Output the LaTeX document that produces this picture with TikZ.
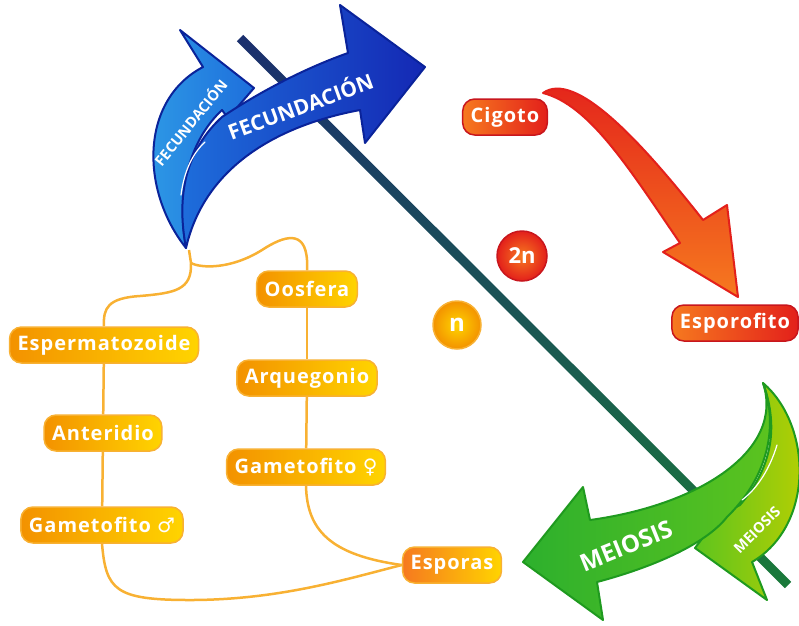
\documentclass[tikz,border=0pt]{standalone}
\usepackage{fontspec}
\setmainfont{Open Sans}
\newfontfamily\simbolos{DejaVu Sans}
\newcommand\etiq{\fontsize{20}{22}\selectfont\bfseries\addfontfeatures{LetterSpace=5}}

\definecolor{naranja}{HTML}{F39200}
\definecolor{amarillo}{HTML}{FFD400}
\definecolor{bordeamar}{HTML}{F8B133}
\definecolor{rojo}{HTML}{E3201B}
\definecolor{rojoosc}{HTML}{C8161D}
\definecolor{naranjarojo}{HTML}{F6791F}
\definecolor{azulclaro}{HTML}{2E9BE6}
\definecolor{azul}{HTML}{1E6FDC}
\definecolor{azulosc}{HTML}{1428B4}
\definecolor{azulborde}{HTML}{0A239A}
\definecolor{verde}{HTML}{2DB02D}
\definecolor{verdeclaro}{HTML}{5EC41E}
\definecolor{verdeamar}{HTML}{BCD000}
\definecolor{verdeborde}{HTML}{1F9A1F}
\definecolor{lineaarriba}{HTML}{1B2F6E}
\definecolor{lineaabajo}{HTML}{1A7A3A}

\tikzset{
  haploide/.style={rounded corners=12pt, draw=bordeamar, line width=1.5pt,
    left color=naranja, right color=amarillo, text=white, font=\etiq,
    minimum height=36pt, inner xsep=8pt},
  diploide/.style={haploide, draw=rojoosc, left color=naranjarojo, right color=rojo},
  ruta/.style={draw=bordeamar, line width=2.5pt},
  flecha/.style={line width=2pt, line join=round},
  rotulo/.style={text=white, inner sep=0pt}
}

\begin{document}
\begin{tikzpicture}[x=1pt, y=-1pt]
  \useasboundingbox (0,0) rectangle (799,625);

  % linea diagonal n / 2n
  \shade[top color=lineaarriba, bottom color=lineaabajo]
    (243.2,34.8) -- (791.2,581.8) -- (784.8,588.2) -- (236.8,41.2) -- cycle;

  % fecundacion
  \path[flecha, draw=azulborde, left color=azulclaro, right color=azul]
    (186,248) .. controls (140,190) and (140,100) .. (203,67) -- (180,30)
    -- (254,88) -- (228,118) -- (222,110)
    .. controls (190,140) and (176,190) .. (186,248) -- cycle;
  \path[flecha, draw=azulborde, left color=azul, right color=azulosc]
    (186,248) .. controls (176,195) and (186,150) .. (222,117)
    .. controls (255,95) and (300,70) .. (348,53) -- (340,5) -- (425,67)
    -- (365,143) -- (360,110)
    .. controls (280,125) and (205,165) .. (186,248) -- cycle;
  \draw[white, line width=1.2pt, line cap=round]
    (181,195) .. controls (184,172) and (192,154) .. (205,142);
  \node[rotulo, rotate=51, font=\fontsize{14.5}{16}\selectfont\bfseries] (fecchica) at (190,122) {FECUNDACIÓN};
  \node[rotulo, rotate=20, font=\fontsize{21}{24}\selectfont\bfseries] (fecgrande) at (300,105) {FECUNDACIÓN};

  % cigoto -> esporofito
  \path[flecha, draw=rojo, top color=rojo, bottom color=naranjarojo]
    (543,93) .. controls (575,70) and (640,140) .. (703,220) -- (727,205)
    -- (738,297) -- (663,252) -- (680,243)
    .. controls (630,170) and (590,105) .. (543,93) -- cycle;

  % meiosis
  \path[flecha, draw=verdeborde, left color=verdeclaro, right color=verdeamar]
    (763,383) .. controls (812,425) and (815,525) .. (752,562) -- (767,600)
    -- (695,548) -- (720,515) -- (740,505)
    .. controls (770,470) and (780,430) .. (763,383) -- cycle;
  \path[flecha, draw=verdeborde, left color=verde, right color=verdeclaro]
    (763,383) .. controls (785,450) and (700,505) .. (590,520) -- (583,487)
    -- (523,562) -- (603,620) -- (597,582)
    .. controls (650,568) and (705,545) .. (727,517)
    .. controls (765,480) and (780,430) .. (763,383) -- cycle;
  \draw[white, line width=1.2pt, line cap=round]
    (742,500) .. controls (758,488) and (770,468) .. (777,445);
  \node[rotulo, rotate=22, font=\fontsize{24}{26}\selectfont\bfseries] (meiogrande) at (626,546) {MEIOSIS};
  \node[rotulo, rotate=45, font=\fontsize{14.5}{16}\selectfont\bfseries] (meiochica) at (757,530) {MEIOSIS};

  % etapas
  \node[diploide] (cigoto) at (505,117) {Cigoto};
  \node[diploide] (esporofito) at (735,323) {Esporofito};
  \node[haploide] (oosfera) at (307,289) {Oosfera};
  \node[haploide] (esperm) at (104,345) {Espermatozoide};
  \node[haploide] (arqueg) at (307,378) {Arquegonio};
  \node[haploide] (anter) at (103,433) {Anteridio};
  \node[haploide] (gfem) at (306,467) {Gametofito {\simbolos ♀}};
  \node[haploide] (gmasc) at (102,525) {Gametofito {\simbolos ♂}};
  \node[haploide, left color=naranjarojo] (esporas) at (452,565) {Esporas};

  \node[circle, minimum size=50pt, draw=rojoosc, line width=1.5pt, inner color=naranjarojo,
    outer color=rojo, text=white, font=\fontsize{22}{24}\selectfont\bfseries] (dosn) at (522,256) {2n};
  \node[circle, minimum size=48pt, draw=bordeamar, line width=1.5pt, inner color=amarillo,
    outer color=naranja, text=white, font=\fontsize{24}{26}\selectfont\bfseries] (unon) at (457,325) {n};

  % ciclo haploide
  \coordinate (cola) at (189,250);
  \coordinate (raiz) at (191,263);
  \draw[ruta] (cola) -- (raiz)
    .. controls (192,290) and (175,293) .. (140,296)
    .. controls (108,298) and (103,308) .. (esperm.north);
  \draw[ruta] (raiz) .. controls (200,268) and (230,270) .. (262,250)
    .. controls (285,235) and (305,230) .. (307,260) -- (oosfera.north);
  \draw[ruta] (esperm) -- (anter);
  \draw[ruta] (anter) -- (gmasc);
  \draw[ruta] (oosfera) -- (arqueg);
  \draw[ruta] (arqueg) -- (gfem);
  \draw[ruta] (gmasc.south) .. controls (106,590) and (115,600) .. (190,600)
    .. controls (280,600) and (350,578) .. (esporas.west);
  \draw[ruta] (gfem.south) .. controls (307,530) and (330,555) .. (esporas.west);
\end{tikzpicture}
\end{document}
